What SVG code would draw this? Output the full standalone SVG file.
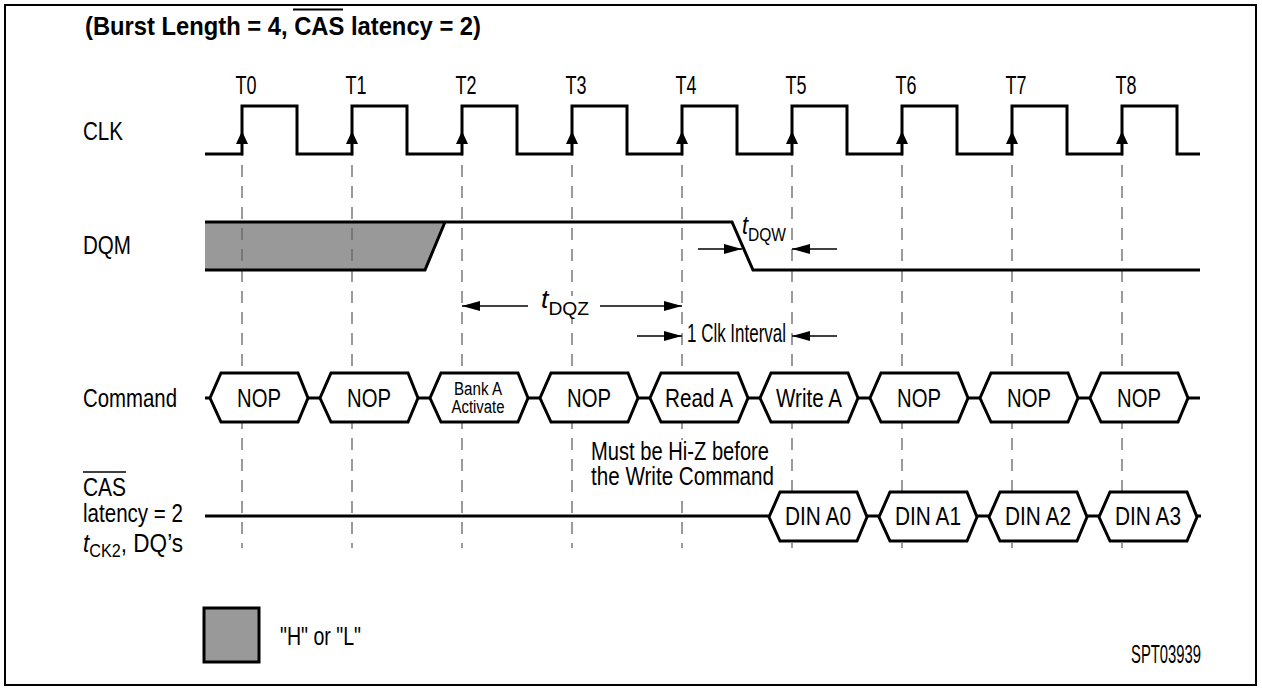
<svg xmlns="http://www.w3.org/2000/svg" xmlns:xlink="http://www.w3.org/1999/xlink" width="1262" height="690" viewBox="0 0 1262 690">
<style>
.t{font-family:"Liberation Sans Narrow","Liberation Sans",Arial,sans-serif;font-size:25px;fill:#000}
.b{font-weight:bold;font-size:26px}
.i{font-style:italic}
.s18{font-size:18px}
.sig{fill:none;stroke:#000;stroke-width:3;stroke-linejoin:miter}
.grid{fill:none;stroke:#666;stroke-width:1.3;stroke-dasharray:12 9}
.box{fill:#fff;stroke:#000;stroke-width:3;stroke-linejoin:miter}
.dim{fill:none;stroke:#000;stroke-width:1.3}
.mid{text-anchor:middle}
</style>
<defs>
<marker id="ah" viewBox="0 0 18 10" refX="18" refY="5" markerWidth="18" markerHeight="10" markerUnits="userSpaceOnUse" orient="auto"><path d="M0,0 L18,5 L0,10 Z" fill="#000"/></marker>
<path id="hex" d="M0,25 L11,0 L88,0 L98,25 L88,49 L11,49 Z"/>
<path id="clkA" d="M-6,0 L0,-13 L6,0 Z"/>
</defs>
<rect x="5" y="5" width="1251" height="680" fill="#fff" stroke="#000" stroke-width="2"/>
<g id="title">
<text class="t b" x="85" y="35" textLength="396" lengthAdjust="spacingAndGlyphs">(Burst Length = 4, CAS latency = 2)</text>
<line x1="293" y1="9.5" x2="343" y2="9.5" stroke="#000" stroke-width="2"/>
</g>
<g id="dqm-fill"><path d="M205,222 H445 L425,270 H205 Z" fill="#999"/></g>
<g id="gridlines"><path class="grid" d="M242,144 V548 M352,144 V548 M462,144 V548 M572,144 V548 M682,144 V548 M792,144 V548 M902,144 V548 M1012,144 V548 M1122,144 V548"/></g>
<g id="knockouts" fill="#fff">
<rect x="546" y="296" width="50" height="22"/>
<rect x="588" y="440" width="184" height="52"/>
</g>
<g id="clk-labels">
<text class="t mid" x="246" y="94" font-size="22" textLength="21" lengthAdjust="spacingAndGlyphs">T0</text>
<text class="t mid" x="356" y="94" font-size="22" textLength="21" lengthAdjust="spacingAndGlyphs">T1</text>
<text class="t mid" x="466" y="94" font-size="22" textLength="21" lengthAdjust="spacingAndGlyphs">T2</text>
<text class="t mid" x="576" y="94" font-size="22" textLength="21" lengthAdjust="spacingAndGlyphs">T3</text>
<text class="t mid" x="686" y="94" font-size="22" textLength="21" lengthAdjust="spacingAndGlyphs">T4</text>
<text class="t mid" x="796" y="94" font-size="22" textLength="21" lengthAdjust="spacingAndGlyphs">T5</text>
<text class="t mid" x="906" y="94" font-size="22" textLength="21" lengthAdjust="spacingAndGlyphs">T6</text>
<text class="t mid" x="1016" y="94" font-size="22" textLength="21" lengthAdjust="spacingAndGlyphs">T7</text>
<text class="t mid" x="1126" y="94" font-size="22" textLength="21" lengthAdjust="spacingAndGlyphs">T8</text>
</g>
<g id="row-labels">
<text class="t" x="83" y="140" textLength="40" lengthAdjust="spacingAndGlyphs">CLK</text>
<text class="t" x="83" y="254" textLength="48" lengthAdjust="spacingAndGlyphs">DQM</text>
<text class="t" x="83" y="407" textLength="94" lengthAdjust="spacingAndGlyphs">Command</text>
<text class="t" x="83" y="496" textLength="43" lengthAdjust="spacingAndGlyphs">CAS</text>
<line x1="83" y1="472" x2="126" y2="472" stroke="#000" stroke-width="1.5"/>
<text class="t" x="83" y="522" textLength="100" lengthAdjust="spacingAndGlyphs">latency = 2</text>
<text class="t" x="83" y="552" textLength="100" lengthAdjust="spacingAndGlyphs"><tspan class="i">t</tspan><tspan class="s18" dy="5">CK2</tspan><tspan dy="-5">, DQ’s</tspan></text>
</g>
<g id="connectors">
<path id="clk" class="sig" d="M205,154 H242 V106 H297 V154 H352 V106 H407 V154 H462 V106 H517 V154 H572 V106 H627 V154 H682 V106 H737 V154 H792 V106 H847 V154 H902 V106 H957 V154 H1012 V106 H1067 V154 H1122 V106 H1177 V154 H1200"/>
<g id="clk-arrows">
<use xlink:href="#clkA" x="242" y="144"/><use xlink:href="#clkA" x="352" y="144"/><use xlink:href="#clkA" x="462" y="144"/>
<use xlink:href="#clkA" x="572" y="144"/><use xlink:href="#clkA" x="682" y="144"/><use xlink:href="#clkA" x="792" y="144"/>
<use xlink:href="#clkA" x="902" y="144"/><use xlink:href="#clkA" x="1012" y="144"/><use xlink:href="#clkA" x="1122" y="144"/>
</g>
<path id="dqm" class="sig" d="M205,222 H732 L753,270 H1200 M205,270 H425 L445,222"/>
<path id="cmd-bus" class="sig" d="M205,398 H210 M308,398 H320 M418,398 H430 M528,398 H540 M638,398 H650 M748,398 H760 M858,398 H870 M968,398 H980 M1078,398 H1090 M1188,398 H1200"/>
<path id="dq-bus" class="sig" d="M205,516 H769 M867,516 H879 M977,516 H989 M1087,516 H1099 M1197,516 H1201"/>
<line class="dim" x1="698" y1="249" x2="742" y2="249" marker-end="url(#ah)"/>
<line class="dim" x1="837" y1="249" x2="792" y2="249" marker-end="url(#ah)"/>
<line class="dim" x1="528" y1="306" x2="462" y2="306" marker-end="url(#ah)"/>
<line class="dim" x1="600" y1="306" x2="682" y2="306" marker-end="url(#ah)"/>
<line class="dim" x1="637" y1="336" x2="682" y2="336" marker-end="url(#ah)"/>
<line class="dim" x1="837" y1="336" x2="792" y2="336" marker-end="url(#ah)"/>
</g>
<g id="timing-labels">
<text class="t" x="742" y="234" textLength="44" lengthAdjust="spacingAndGlyphs"><tspan class="i">t</tspan><tspan class="s18" dy="7">DQW</tspan></text>
<text class="t" x="541" y="308" textLength="48" lengthAdjust="spacingAndGlyphs"><tspan class="i">t</tspan><tspan class="s18" dy="7">DQZ</tspan></text>
<text class="t" x="687" y="342" font-size="21" textLength="99" lengthAdjust="spacingAndGlyphs">1 Clk Interval</text>
<text class="t" font-size="21.5"><tspan x="591" y="460" textLength="178" lengthAdjust="spacingAndGlyphs">Must be Hi-Z before</tspan><tspan x="591" y="485" textLength="183" lengthAdjust="spacingAndGlyphs">the Write Command</tspan></text>
</g>
<g id="cmd-0" transform="translate(210,373)"><use xlink:href="#hex" class="box"/><text class="t mid" x="49" y="34" textLength="44" lengthAdjust="spacingAndGlyphs">NOP</text></g>
<g id="cmd-1" transform="translate(320,373)"><use xlink:href="#hex" class="box"/><text class="t mid" x="49" y="34" textLength="44" lengthAdjust="spacingAndGlyphs">NOP</text></g>
<g id="cmd-2" transform="translate(430,373)"><use xlink:href="#hex" class="box"/><text class="t mid s18" x="48" y="22" textLength="48" lengthAdjust="spacingAndGlyphs">Bank A</text><text class="t mid s18" x="48" y="40" textLength="53" lengthAdjust="spacingAndGlyphs">Activate</text></g>
<g id="cmd-3" transform="translate(540,373)"><use xlink:href="#hex" class="box"/><text class="t mid" x="49" y="34" textLength="44" lengthAdjust="spacingAndGlyphs">NOP</text></g>
<g id="cmd-4" transform="translate(650,373)"><use xlink:href="#hex" class="box"/><text class="t mid" x="49" y="34" textLength="68" lengthAdjust="spacingAndGlyphs">Read A</text></g>
<g id="cmd-5" transform="translate(760,373)"><use xlink:href="#hex" class="box"/><text class="t mid" x="49" y="34" textLength="66" lengthAdjust="spacingAndGlyphs">Write A</text></g>
<g id="cmd-6" transform="translate(870,373)"><use xlink:href="#hex" class="box"/><text class="t mid" x="49" y="34" textLength="44" lengthAdjust="spacingAndGlyphs">NOP</text></g>
<g id="cmd-7" transform="translate(980,373)"><use xlink:href="#hex" class="box"/><text class="t mid" x="49" y="34" textLength="44" lengthAdjust="spacingAndGlyphs">NOP</text></g>
<g id="cmd-8" transform="translate(1090,373)"><use xlink:href="#hex" class="box"/><text class="t mid" x="49" y="34" textLength="44" lengthAdjust="spacingAndGlyphs">NOP</text></g>
<g id="din-0" transform="translate(769,492)"><use xlink:href="#hex" class="box"/><text class="t mid" x="49" y="33" textLength="66" lengthAdjust="spacingAndGlyphs">DIN A0</text></g>
<g id="din-1" transform="translate(879,492)"><use xlink:href="#hex" class="box"/><text class="t mid" x="49" y="33" textLength="66" lengthAdjust="spacingAndGlyphs">DIN A1</text></g>
<g id="din-2" transform="translate(989,492)"><use xlink:href="#hex" class="box"/><text class="t mid" x="49" y="33" textLength="66" lengthAdjust="spacingAndGlyphs">DIN A2</text></g>
<g id="din-3" transform="translate(1099,492)"><use xlink:href="#hex" class="box"/><text class="t mid" x="49" y="33" textLength="66" lengthAdjust="spacingAndGlyphs">DIN A3</text></g>
<g id="legend">
<rect x="204" y="608" width="55" height="54" fill="#999" stroke="#000" stroke-width="3"/>
<text class="t" x="280" y="645" font-size="24" textLength="81" lengthAdjust="spacingAndGlyphs">"H" or "L"</text>
</g>
<g id="figure-id"><text class="t" x="1131" y="663" font-size="18" textLength="70" lengthAdjust="spacingAndGlyphs">SPT03939</text></g>
</svg>
